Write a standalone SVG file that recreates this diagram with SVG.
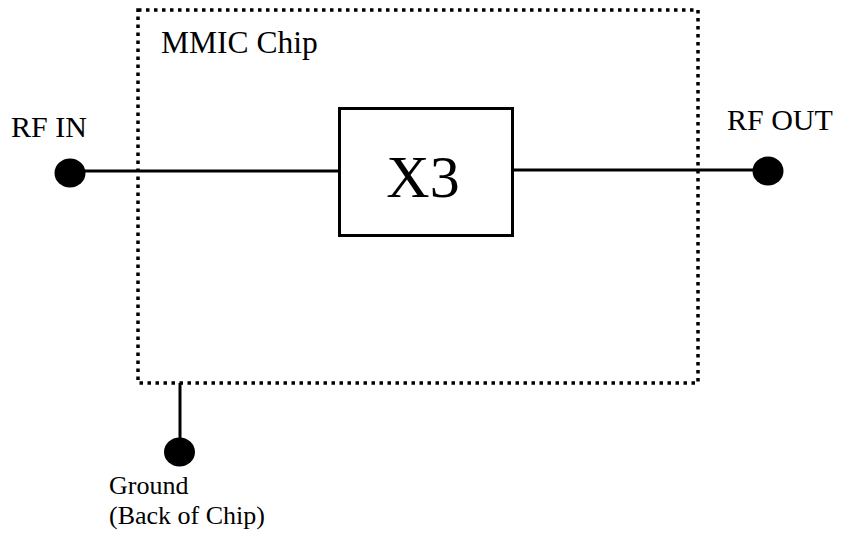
<svg xmlns="http://www.w3.org/2000/svg" width="851" height="533" viewBox="0 0 851 533">
<style>
.t{font-family:"Liberation Serif","Times New Roman",serif;fill:#000}
.w{stroke:#000;stroke-width:3;fill:none}
.dot{fill:#000}
</style>
<rect width="851" height="533" fill="#fff"/>
<g id="chip">
<rect x="138" y="10" width="560" height="373" fill="none" stroke="#000" stroke-width="3.5" stroke-dasharray="3.5 4.5"/>
<text class="t" x="161" y="53" font-size="31.5">MMIC Chip</text>
</g>
<g id="connectors">
<line class="w" x1="70" y1="171" x2="340" y2="171"/>
<line class="w" x1="512" y1="170" x2="768" y2="170"/>
<line class="w" x1="180" y1="383" x2="180" y2="452"/>
</g>
<g id="x3">
<rect x="339.5" y="108.5" width="173" height="127" fill="#fff" stroke="#000" stroke-width="3"/>
<text class="t" x="423" y="197" font-size="60" text-anchor="middle">X3</text>
</g>
<g id="rfin">
<ellipse class="dot" cx="70" cy="173" rx="15.5" ry="14.5"/>
<text class="t" x="11" y="137" font-size="30">RF IN</text>
</g>
<g id="rfout">
<ellipse class="dot" cx="768" cy="171" rx="15.5" ry="14.5"/>
<text class="t" x="727" y="130" font-size="30">RF OUT</text>
</g>
<g id="ground">
<ellipse class="dot" cx="179.5" cy="452" rx="15.5" ry="14.5"/>
<text class="t" x="109" y="494" font-size="26">Ground</text>
<text class="t" x="109" y="524" font-size="26">(Back of Chip)</text>
</g>
</svg>
